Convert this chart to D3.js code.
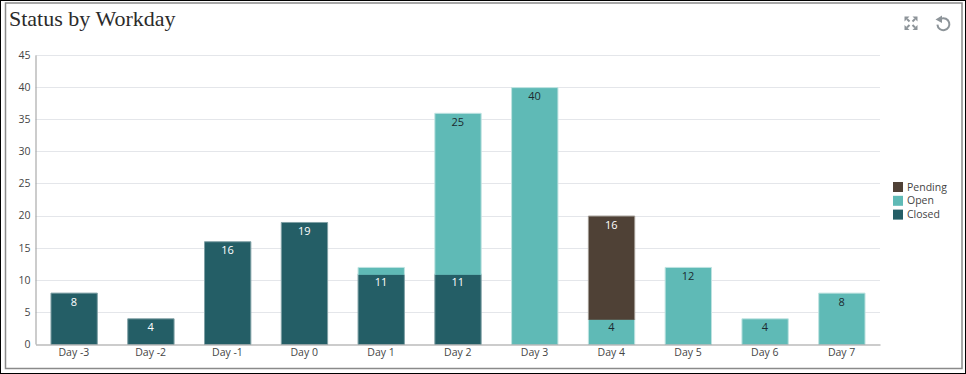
<html lang="en">
<head>
  <meta charset="UTF-8"/>
  <script src="https://d3js.org/d3.v7.min.js"></script>
  <style>
body { margin: 0; background: #fff; font-family: 'Open Sans', sans-serif; }
svg { display: block; }
.title { font-family: 'Liberation Serif', serif; font-size: 22px; fill: #2b2b2b; }
.axis text { font-size: 10.5px; fill: #454545; font-family: 'Open Sans', sans-serif; }
.grid line { stroke: #e4e6ea; }
.value { font-size: 11px; text-anchor: middle; }
.legend text { font-size: 10.5px; fill: #454545; }
  </style>
</head>
<body>
<svg width="966" height="374"></svg>
<script>
const days = ['Day -3','Day -2','Day -1','Day 0','Day 1','Day 2','Day 3','Day 4','Day 5','Day 6','Day 7'];
const closed = [8,4,16,19,11,11,0,0,0,0,0];
const open = [0,0,0,0,1,25,40,4,12,4,8];
const pending = [0,0,0,0,0,0,0,16,0,0,0];
const yTicks = [0,5,10,15,20,25,30,35,40,45];
const seriesNames = ['Closed','Open','Pending'];
const seriesColors = ['#245e66','#5fbab6','#4f4136'];
const seriesEdges = ['#7fa0a5','#bfe3e1','#a09a92'];
const labelColors = ['#fff','#1c2b30','#fff'];
const labelWeights = [500,400,500];

const svg = d3.select('svg');
const plotLeft = 35.5, plotRight = 880, plotTop = 55, plotBottom = 344;

// frames
svg.append('rect').attr('x',0.5).attr('y',0.5).attr('width',965).attr('height',373)
  .attr('fill','#fff').attr('stroke','#000');
svg.append('rect').attr('x',5.5).attr('y',3).attr('width',956.5).attr('height',365.5)
  .attr('fill','none').attr('stroke','#8a8a8a').attr('stroke-width',1.5);

svg.append('text').attr('class','title').attr('x',9).attr('y',26).text('Status by Workday');

const x = d3.scaleBand().domain(days).range([plotLeft,plotRight]).paddingInner(0.39).paddingOuter(0.195);
const y = d3.scaleLinear().domain([0,45]).range([plotBottom,plotTop]);

svg.append('g').attr('class','grid').selectAll('line').data(yTicks.slice(1)).enter().append('line')
  .attr('x1',plotLeft).attr('x2',plotRight)
  .attr('y1',d => Math.round(y(d)) + 0.5).attr('y2',d => Math.round(y(d)) + 0.5);

const stacked = d3.stack().keys([0,1,2]).value((d,k) => [closed,open,pending][k][d])(d3.range(days.length));
const barW = x.bandwidth() - 0.5;
// upper segments run 1px into the one below to cover its top edge
const segH = d => y(d[0]) - y(d[1]) + (d[0] > 0 ? 1 : 0);

stacked.forEach((layer,k) => {
  // dash leaves the bottom edge unstroked, so stacked segments join without a seam
  svg.append('g').selectAll('rect').data(layer).enter().filter(d => d[1] > d[0]).append('rect')
    .attr('x',d => x(days[d.data]) + 0.5)
    .attr('y',d => y(d[1]) + 0.5)
    .attr('width',barW)
    .attr('height',segH)
    .attr('fill',seriesColors[k])
    .attr('stroke',seriesEdges[k])
    .attr('stroke-dasharray',d => `${barW + segH(d)} ${barW} ${segH(d)} 0`);

  // labels inside the top of each segment, skipped when the segment is too short
  svg.append('g').selectAll('text').data(layer).enter().filter(d => d[1] - d[0] > 1).append('text')
    .attr('class','value')
    .attr('x',d => x(days[d.data]) + x.bandwidth() / 2)
    .attr('y',d => y(d[1]) + 13)
    .attr('fill',labelColors[k])
    .attr('font-weight',labelWeights[k])
    .text(d => d[1] - d[0]);
});

const yAxis = svg.append('g').attr('class','axis').attr('transform',`translate(${plotLeft},0)`)
  .call(d3.axisLeft(y).tickValues(yTicks).tickSize(0).tickPadding(5));
yAxis.select('.domain').attr('stroke','#999');

const xAxis = svg.append('g').attr('class','axis').attr('transform',`translate(0,${plotBottom + 0.5})`)
  .call(d3.axisBottom(x).tickSize(0).tickPadding(4));
xAxis.select('.domain').attr('stroke','#999');

const legendOrder = [2,1,0];
const legend = svg.append('g').attr('class','legend').selectAll('g').data(legendOrder).enter().append('g')
  .attr('transform',(d,i) => `translate(893,${182 + i * 13.8})`);
legend.append('rect').attr('width',10).attr('height',10).attr('fill',d => seriesColors[d]);
legend.append('text').attr('x',14).attr('y',8.5).text(d => seriesNames[d]);

// toolbar icons
const icons = svg.append('g').attr('fill','none').attr('stroke','#8d9499');
icons.selectAll('path.corner')
  .data(['M904.5 16.5h5l-5 5z','M917.5 16.5h-5l5 5z','M904.5 30h5l-5 -5z','M917.5 30h-5l5 -5z'])
  .enter().append('path').attr('d',d => d).attr('fill','#8d9499').attr('stroke','none');
icons.selectAll('path.stem')
  .data(['M907 19l2.5 2.5','M915 19l-2.5 2.5','M907 27.5l2.5 -2.5','M915 27.5l-2.5 -2.5'])
  .enter().append('path').attr('d',d => d).attr('stroke-width',2);
icons.append('path').attr('d','M941 18.7a6 6 0 1 1 -3.6 6').attr('stroke-width',2);
icons.append('path').attr('d','M942 15.5l-6.5 4 6.5 3.5z').attr('fill','#8d9499').attr('stroke','none');
</script>
</body>
</html>
